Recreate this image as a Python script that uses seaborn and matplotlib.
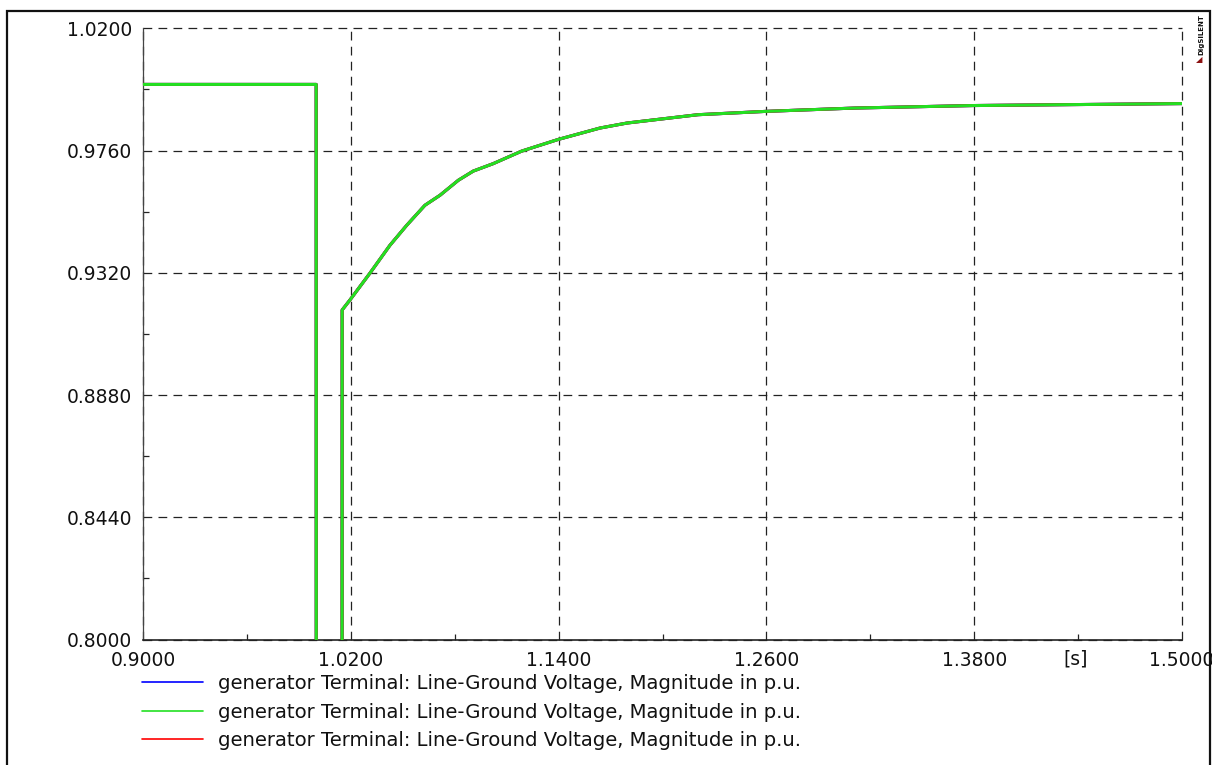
import numpy as np
import pandas as pd
import matplotlib
matplotlib.use("Agg")
import matplotlib.pyplot as plt
import seaborn as sns
from matplotlib.patches import Rectangle
from matplotlib.ticker import FixedLocator, FormatStrFormatter

# ---------------- data ----------------
time_s = [0.900, 1.000, 1.0001, 1.0149, 1.0150, 1.0195, 1.0311, 1.0426, 1.0523,
          1.0628, 1.0715, 1.0821, 1.0907, 1.1023, 1.1187, 1.1398, 1.1639, 1.1795,
          1.2205, 1.2598, 1.3112, 1.3799, 1.4480, 1.5000]
voltage_pu = [0.9998, 0.9998, 0.5500, 0.5500, 0.9186, 0.9222, 0.9319, 0.9419, 0.9491,
              0.9563, 0.9599, 0.9653, 0.9686, 0.9713, 0.9758, 0.9800, 0.9841, 0.9859,
              0.9889, 0.9901, 0.9913, 0.9922, 0.9926, 0.9929]
series_labels = ["generator Terminal: Line-Ground Voltage, Magnitude in p.u."] * 3
series_colors = ["#0000ff", "#22e022", "#ff0000"]
x_ticks = [0.90, 1.02, 1.14, 1.26, 1.38, 1.50]
y_ticks = [0.800, 0.844, 0.888, 0.932, 0.976, 1.020]
x_unit = "[s]"

# ---------------- style ----------------
sns.set_style("white")
plt.rcParams["font.family"] = ["DejaVu Sans"]

W, H = 1221, 765
fig = plt.figure(figsize=(W / 100, H / 100), dpi=100)
ax = fig.add_axes([143 / W, 1 - 639.5 / H, (1182 - 143) / W, (639.5 - 28.3) / H])

df = pd.DataFrame({"t": time_s, "v": voltage_pu})
zorders = [2, 4, 3]
for lab, col, z in zip(series_labels, series_colors, zorders):
    sns.lineplot(data=df, x="t", y="v", ax=ax, color=col, label=lab,
                 linewidth=2.2, estimator=None, sort=False, zorder=z)

ax.set_xlim(0.9, 1.5)
ax.set_ylim(0.8, 1.02)
ax.set_xlabel("")
ax.set_ylabel("")

ax.xaxis.set_major_locator(FixedLocator(x_ticks))
ax.yaxis.set_major_locator(FixedLocator(y_ticks))
ax.xaxis.set_minor_locator(FixedLocator([(a + b) / 2 for a, b in zip(x_ticks[:-1], x_ticks[1:])]))
ax.yaxis.set_minor_locator(FixedLocator([(a + b) / 2 for a, b in zip(y_ticks[:-1], y_ticks[1:])]))
ax.xaxis.set_major_formatter(FormatStrFormatter("%.4f"))
ax.yaxis.set_major_formatter(FormatStrFormatter("%.4f"))

ax.grid(True, which="major", color="#222222", linestyle=(0, (7, 5)), linewidth=0.9)
for gl in ax.get_xgridlines() + ax.get_ygridlines():
    gl.set_clip_on(False)
ax.tick_params(axis="x", which="major", length=0, pad=8, labelsize=13.5, colors="#111111")
ax.tick_params(axis="y", which="major", length=5, width=0.9, direction="out", pad=3,
               labelsize=13.5, colors="#111111")
ax.tick_params(axis="both", which="minor", length=4, width=0.9, direction="in",
               bottom=True, left=True, colors="#222222")

for s in ["top", "right"]:
    ax.spines[s].set_visible(False)
ax.spines["bottom"].set_color("#222222")
ax.spines["bottom"].set_linewidth(1.2)
ax.spines["left"].set_color("#444444")
ax.spines["left"].set_linewidth(0.9)

# unit label next to x ticks
ax.text(1.4388, -0.0315, x_unit, transform=ax.get_xaxis_transform(), ha="center", va="center",
        fontsize=13.5, color="#111111")

leg = ax.legend(loc="upper left", bbox_to_anchor=(-0.001, -0.056), frameon=False,
                fontsize=14.1, handlelength=3.1, handletextpad=0.8, labelspacing=0.5,
                borderaxespad=0, borderpad=0)
for ln in leg.get_lines():
    ln.set_linewidth(1.2)
for t in leg.get_texts():
    t.set_color("#111111")

# outer frame and logo
fig.patches.append(Rectangle((1211.5 / W, 0), 1, 1, transform=fig.transFigure,
                             facecolor="white", edgecolor="none", zorder=5))
fig.patches.append(Rectangle((7 / W, -0.05), (1210 - 7) / W, 1.05 - 11 / H,
                             transform=fig.transFigure, fill=False, edgecolor="#111111",
                             linewidth=1.6, zorder=6))
fig.text(1201 / W, 1 - 14 / H, "DIgSILENT", rotation=90, fontsize=5, fontweight="bold",
         ha="center", va="top", color="#111111")
fig.text(1199 / W, 1 - 60 / H, "◢", fontsize=6, ha="center", va="center", color="#8b1010")

fig.savefig("out.png", dpi=100)
